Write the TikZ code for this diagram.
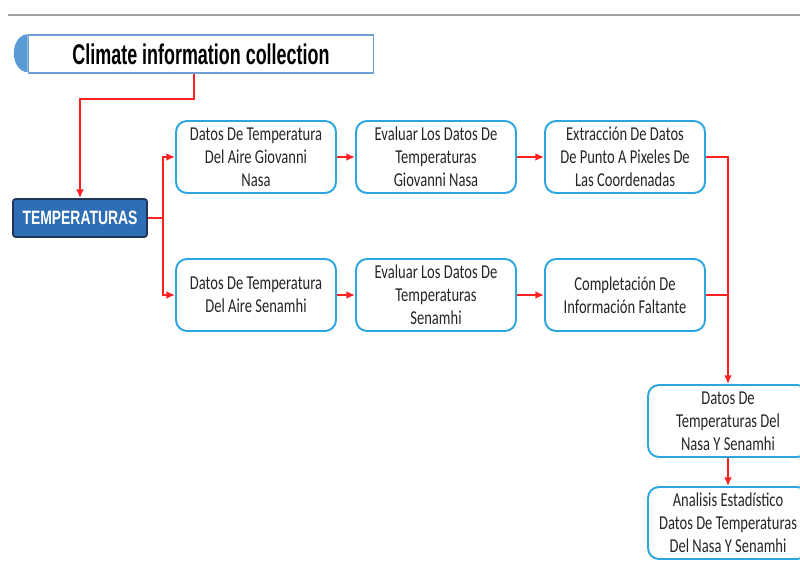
\documentclass[tikz,border=0pt]{standalone}
\usepackage{fontspec}
\setmainfont[FakeStretch=0.74]{Carlito}
\newfontfamily\titlefont[FakeStretch=0.63]{Liberation Sans}
\newfontfamily\tempfont[FakeStretch=0.72]{Liberation Sans}
\usetikzlibrary{arrows.meta,positioning}

\definecolor{boxblue}{HTML}{2BA6DE}
\definecolor{titleline}{HTML}{6E9FD4}
\definecolor{titlehalf}{HTML}{5B9BD5}
\definecolor{tempfill}{HTML}{2E6EB5}
\definecolor{templine}{HTML}{1E3555}
\definecolor{flowred}{HTML}{FF2020}
\definecolor{boxtext}{HTML}{262626}

\begin{document}
\begin{tikzpicture}[x=0.02cm,y=-0.02cm,>={Latex[length=5pt,width=4.5pt]},
	box/.style={draw=boxblue,line width=1.1pt,rounded corners=0.22cm,fill=white,
		minimum width=3.2cm,minimum height=1.44cm,align=center,inner sep=1pt,text=boxtext,
		font=\fontsize{11.2}{13}\selectfont},
	flow/.style={draw=flowred,line width=0.9pt}
	]
	\useasboundingbox (0,0) rectangle (800,563);
	\clip (0,0) rectangle (800,563);

	\draw[gray!75,line width=0.9pt] (8,15) -- (800,15);

	% heading
	\node[draw=titleline,line width=0.9pt,fill=white,minimum width=6.9cm,minimum height=0.76cm,
		font=\titlefont\bfseries\fontsize{16.2}{18}\selectfont] (title) at (201,54) {Climate information collection};
	\fill[titlehalf] (title.north west) arc[start angle=90,end angle=270,x radius=0.28cm,y radius=0.38cm] -- cycle;

	\node[draw=templine,line width=1pt,fill=tempfill,rounded corners=1.5pt,minimum width=2.68cm,minimum height=0.76cm,
		text=white,font=\tempfont\bfseries\fontsize{11}{12}\selectfont] (temp) at (80,218) {TEMPERATURAS};

	% Giovanni Nasa row
	\node[box] (a1) at (256,157) {Datos De Temperatura\\Del Aire Giovanni\\Nasa};
	\node[box] (a2) at (436,157) {Evaluar Los Datos De\\Temperaturas\\Giovanni Nasa};
	\node[box] (a3) at (625,157) {Extracción De Datos\\De Punto A Pixeles De\\Las Coordenadas};

	% Senamhi row
	\node[box] (b1) at (256,295) {Datos De Temperatura\\Del Aire Senamhi};
	\node[box] (b2) at (436,295) {Evaluar Los Datos De\\Temperaturas\\Senamhi};
	\node[box] (b3) at (625,295) {Completación De\\Información Faltante};

	\node[box] (c) at (728,421) {Datos De\\Temperaturas Del\\Nasa Y Senamhi};
	\node[box] (d) at (728,523) {Analisis Estadístico\\Datos De Temperaturas\\Del Nasa Y Senamhi};

	\draw[flow,->] ([xshift=-0.14cm]title.south) -- ++(0,25) -| (temp.north);
	\draw[flow,->] (temp.east) -- ++(15,0) |- (a1.west);
	\draw[flow,->] (temp.east) -- ++(15,0) |- (b1.west);

	\draw[flow,->] (a1) -- (a2);
	\draw[flow,->] (a2) -- (a3);
	\draw[flow,->] (b1) -- (b2);
	\draw[flow,->] (b2) -- (b3);

	\draw[flow,->] (a3.east) -| (c.north);
	\draw[flow] (b3.east) -- (b3.east -| c.north);
	\draw[flow,->] (c) -- (d);

\end{tikzpicture}
\end{document}
